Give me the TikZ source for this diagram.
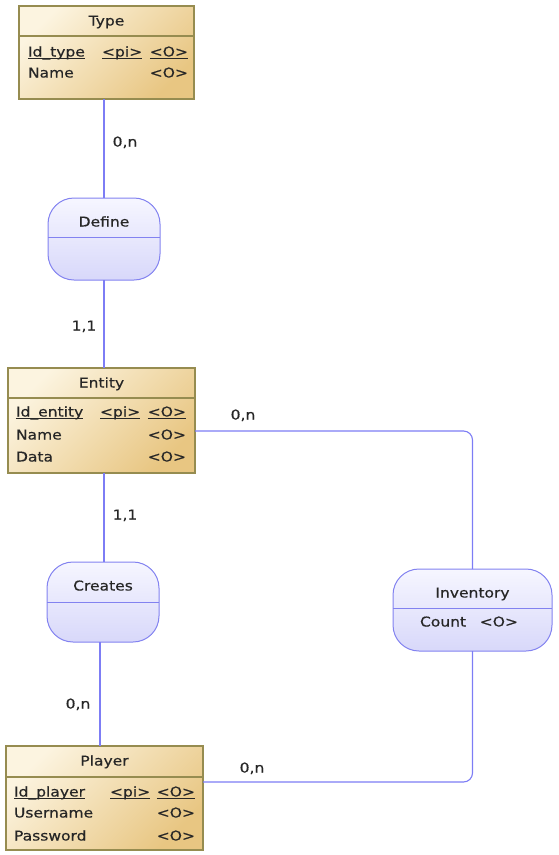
\documentclass[tikz,border=0pt]{standalone}
\usepackage{fontspec}
\setmainfont{DejaVu Sans}[FakeStretch=1.15,FakeBold=0.5]
\newcommand{\myul}[1]{{\setbox0\hbox{#1}\rlap{\rule[-2.6pt]{\wd0}{1.4pt}}\box0}}
% capsule-like association outline: x0,y0,x1,y1 (corner radius 26)
\newcommand{\assocshape}[4]{%
  \path[assocfill]
    (#1,#2+26) .. controls (#1,#2+11.6) and (#1+11.6,#2) .. (#1+26,#2)
    -- (#3-26,#2) .. controls (#3-11.6,#2) and (#3,#2+11.6) .. (#3,#2+26)
    -- (#3,#4-26) .. controls (#3,#4-11.6) and (#3-11.6,#4) .. (#3-26,#4)
    -- (#1+26,#4) .. controls (#1+11.6,#4) and (#1,#4-11.6) .. (#1,#4-26)
    -- cycle;}
\begin{document}
\begin{tikzpicture}[x=1pt,y=-1pt,
  font=\fontsize{13.5}{15}\selectfont,
  every node/.style={inner sep=0pt, outer sep=0pt, text=black!85},
  entbox/.style={draw=entborder, line width=1.4pt, left color=entlight, right color=entdark, shading angle=45, anchor=north west},
  assocbox/.style={anchor=north west},
  assocfill/.style={draw=assocborder, line width=1pt, top color=assoclight, bottom color=assocdark},
  link/.style={draw=linkcol, line width=1.1pt},
  txt/.style={anchor=base west},
  txtr/.style={anchor=base east},
  ctr/.style={anchor=base}
]
\definecolor{entborder}{RGB}{150,140,80}
\definecolor{entlight}{RGB}{252,244,224}
\definecolor{entdark}{RGB}{232,198,130}
\definecolor{assocborder}{RGB}{130,130,240}
\definecolor{assoclight}{RGB}{246,246,255}
\definecolor{assocdark}{RGB}{216,216,250}
\definecolor{linkcol}{RGB}{125,125,245}
\useasboundingbox (0,0) rectangle (558,855);

% ---- Type
\node[entbox, minimum width=175pt, minimum height=93pt] (type) at (19,6) {};
\draw[entborder, line width=1.1pt] (19,36) -- (194,36);
\node[ctr] (typeT) at (106.5,25.5) {Type};
\node[txt] (typeA1) at (28,56.5) {\myul{Id\_type}};
\node[txt] (typeA1b) at (102,56.5) {\myul{<pi>}};
\node[txtr] (typeA1c) at (188,56.5) {\myul{<O>}};
\node[txt] (typeA2) at (28,77.5) {Name};
\node[txtr] (typeA2c) at (188,77.5) {<O>};

% ---- Define
\assocshape{48}{198}{160}{280}
\node[assocbox, minimum width=112pt, minimum height=82pt] (define) at (48,198) {};
\draw[assocborder, line width=1pt] (48,237) -- (160,237);
\node[ctr] (defineT) at (104,226.5) {Define};

% ---- Entity
\node[entbox, minimum width=187pt, minimum height=105pt] (entity) at (8,368) {};
\draw[entborder, line width=1.1pt] (8,398) -- (195,398);
\node[ctr] (entityT) at (101.5,387.5) {Entity};
\node[txt] (entA1) at (16,416.5) {\myul{Id\_entity}};
\node[txt] (entA1b) at (100,416.5) {\myul{<pi>}};
\node[txtr] (entA1c) at (186,416.5) {\myul{<O>}};
\node[txt] (entA2) at (16,439.5) {Name};
\node[txtr] (entA2c) at (186,439.5) {<O>};
\node[txt] (entA3) at (16,461.5) {Data};
\node[txtr] (entA3c) at (186,461.5) {<O>};

% ---- Creates
\assocshape{47}{562}{159}{642}
\node[assocbox, minimum width=112pt, minimum height=80pt] (creates) at (47,562) {};
\draw[assocborder, line width=1pt] (47,602) -- (159,602);
\node[ctr] (createsT) at (103,590.5) {Creates};

% ---- Inventory
\assocshape{393}{569}{552}{651}
\node[assocbox, minimum width=159pt, minimum height=82pt] (inventory) at (393,569) {};
\draw[assocborder, line width=1pt] (393,608) -- (552,608);
\node[ctr] (invT) at (472.5,597.5) {Inventory};
\node[txt] (invA) at (420,626.5) {Count};
\node[txtr] (invAc) at (518,626.5) {<O>};

% ---- Player
\node[entbox, minimum width=197pt, minimum height=104pt] (player) at (6,746) {};
\draw[entborder, line width=1.1pt] (6,777) -- (203,777);
\node[ctr] (playerT) at (104.5,765.5) {Player};
\node[txt] (plA1) at (14,796.5) {\myul{Id\_player}};
\node[txt] (plA1b) at (110,796.5) {\myul{<pi>}};
\node[txtr] (plA1c) at (195,796.5) {\myul{<O>}};
\node[txt] (plA2) at (14,817.5) {Username};
\node[txtr] (plA2c) at (195,817.5) {<O>};
\node[txt] (plA3) at (14,840.5) {Password};
\node[txtr] (plA3c) at (195,840.5) {<O>};

% ---- connectors
\draw[link] (define.north |- type.south) -- (define.north);
\draw[link] (define.south) -- (define.south |- entity.north);
\draw[link] (creates.north -| 104,0) -- (entity.south -| 104,0);
\draw[link] (player.north -| 100,0) -- (creates.south -| 100,0);
\draw[link, rounded corners=9pt] (entity.east |- 0,431) -| (inventory.north);
\draw[link, rounded corners=9pt] (player.east |- 0,782) -| (inventory.south);

% ---- cardinalities
\node[ctr] (c1) at (125,146.5) {0,n};
\node[ctr] (c2) at (84,330.5) {1,1};
\node[ctr] (c3) at (243,419.5) {0,n};
\node[ctr] (c4) at (125,519.5) {1,1};
\node[ctr] (c5) at (78,708.5) {0,n};
\node[ctr] (c6) at (252,772.5) {0,n};
\end{tikzpicture}
\end{document}
